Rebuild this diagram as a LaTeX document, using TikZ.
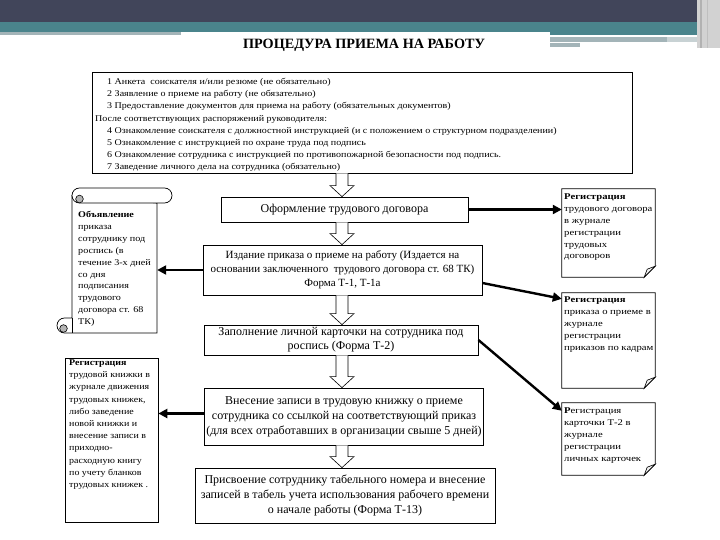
\documentclass[tikz,border=0pt]{standalone}
\usepackage{fontspec}
\setmainfont{Liberation Serif}
\newfontfamily\topfont[FakeStretch=1.14]{Liberation Serif}
\newfontfamily\sidefont[FakeStretch=1.21]{Liberation Serif}
\newfontfamily\scrollfont[FakeStretch=1.15]{Liberation Serif}
\newfontfamily\lboxfont[FakeStretch=1.13]{Liberation Serif}
\usetikzlibrary{arrows.meta,calc}
\definecolor{bannerdark}{HTML}{41455A}
\definecolor{bannerteal}{HTML}{4A848C}
\definecolor{bannergray}{HTML}{A3B4B8}
\definecolor{curlgray}{HTML}{B4B4B4}
\begin{document}
\begin{tikzpicture}[x=1pt,y=-1pt,
  mainbox/.style={draw, line width=0.8pt, fill=white, align=center, inner sep=2pt,
    font=\fontsize{12}{15}\selectfont},
  plainarea/.style={draw=none, inner sep=0pt},
  sidetext/.style={anchor=north west, inner sep=0pt, align=left,
    font=\sidefont\fontsize{8.8}{11.9}\selectfont},
  hollowarrow/.style={draw, line width=0.6pt, fill=white},
  thickarrow/.style={line width=2.4pt, -{Triangle[length=9pt,width=9pt]}},
  blockarrow/.style={to path={let \p1=(\tikztostart),\p2=(\tikztotarget) in
    (\x1-6pt,\y1) -- (\x1-6pt,\y2+11pt) -- (\x1-12pt,\y2+11pt) -- (\x1,\y2)
    -- (\x1+12pt,\y2+11pt) -- (\x1+6pt,\y2+11pt) -- (\x1+6pt,\y1)}}
]
\useasboundingbox (0,0) rectangle (720,540);
\fill[white] (0,0) rectangle (720,540);
% banner
\fill[bannerdark] (0,0) rectangle (720,22);
\fill[bannerteal] (0,22) rectangle (720,32);
\fill[bannergray] (0,32) rectangle (181,35);
\fill[bannerteal] (550,32) rectangle (697,35);
\fill[bannergray] (550,37) rectangle (667,42);
\fill[bannergray!60] (667,37) rectangle (697,42);
\fill[bannergray] (550,43) rectangle (580,47);
\fill[gray!35] (697,0) rectangle (720,48);
\fill[gray!60] (700,0) rectangle (702,48);
\fill[gray!50] (707,0) rectangle (708,48);

% title
\node[inner sep=0pt, font=\bfseries\fontsize{14.2}{16}\selectfont] (title) at (364,45) {ПРОЦЕДУРА ПРИЕМА НА РАБОТУ};

% top box
\node[draw, line width=0.9pt, minimum width=540, minimum height=101, inner sep=0pt] (top) at (362,122.5) {};
\node[anchor=north west, inner sep=0pt, align=left, font=\topfont\fontsize{8.8}{12.2}\selectfont] (toptext) at (95,78) {%
\hspace*{12pt}1 Анкета\ \ соискателя и/или резюме (не обязательно)\\
\hspace*{12pt}2 Заявление о приеме на работу (не обязательно)\\
\hspace*{12pt}3 Предоставление документов для приема на работу (обязательных документов)\\
После соответствующих распоряжений руководителя:\\
\hspace*{12pt}4 Ознакомление соискателя с должностной инструкцией (и с положением о структурном подразделении)\\
\hspace*{12pt}5 Ознакомление с инструкцией по охране труда под подпись\\
\hspace*{12pt}6 Ознакомление сотрудника с инструкцией по противопожарной безопасности под подпись.\\
\hspace*{12pt}7 Заведение личного дела на сотрудника (обязательно)};

% main column
\node[mainbox, minimum width=247, minimum height=25] (b1) at (344.5,209.5) {Оформление трудового договора};
\node[mainbox, minimum width=279, minimum height=50, font=\fontsize{11}{13.8}\selectfont] (b2) at (342.5,270) {Издание приказа о приеме на работу (Издается на\\основании заключенного\ \ трудового договора ст. 68 ТК)\\Форма Т-1, Т-1а};
\node[mainbox, minimum width=274, minimum height=30, font=\fontsize{12}{14}\selectfont] (b3) at (341,340) {Заполнение личной карточки на сотрудника под\\роспись (Форма Т-2)};
\node[mainbox, minimum width=278, minimum height=57] (b4) at (344,416.5) {Внесение записи в трудовую книжку о приеме\\сотрудника со ссылкой на соответствующий приказ\\(для всех отработавших в организации свыше 5 дней)};
\node[mainbox, minimum width=300, minimum height=55] (b5) at (345,495.5) {Присвоение сотруднику табельного номера и внесение\\записей в табель учета использования рабочего времени\\о начале работы (Форма Т-13)};

% block arrows
\coordinate (ax) at (342,0);
\draw[hollowarrow] (top.south -| ax) to[blockarrow] (b1.north -| ax);
\draw[hollowarrow] (b1.south -| ax) to[blockarrow] (b2.north -| ax);
\draw[hollowarrow] (b2.south -| ax) to[blockarrow] (b3.north -| ax);
\draw[hollowarrow] (b3.south -| ax) to[blockarrow] (b4.north -| ax);
\draw[hollowarrow] (b4.south -| ax) to[blockarrow] (b5.north -| ax);

% scroll (left)
\node[plainarea, minimum width=85, minimum height=129] (scroll) at (114.5,260.5) {};
\draw[fill=white, line width=0.7pt] (72,195.5) -- (72,318) -- (64.5,318) arc (-90:-270:7.5) -- (157,333) -- (157,203) -- cycle;
\draw[fill=white, line width=0.7pt, rounded corners=7.5pt] (72,188) rectangle (172,203);
\draw[fill=curlgray, line width=0.6pt] (79.5,199) circle (3.8);
\draw[fill=curlgray, line width=0.6pt] (63.5,328.5) circle (3.8);
\draw[line width=0.7pt] (72,318) -- (72,333);
\node[sidetext, font=\scrollfont\fontsize{8.8}{11.9}\selectfont] (scrolltext) at (78,211) {\textbf{Объявление}\\приказа\\сотруднику под\\роспись (в\\течение 3-х дней\\со дня\\подписания\\трудового\\договора ст. 68\\ТК)};

% left box
\node[draw, line width=0.7pt, minimum width=93, minimum height=164, inner sep=0pt] (lbox) at (111.5,440) {};
\node[sidetext, font=\lboxfont\fontsize{8.8}{12.2}\selectfont] (lboxtext) at (69,359.5) {\textbf{Регистрация}\\трудовой книжки в\\журнале движения\\трудовых книжек,\\либо заведение\\новой книжки и\\внесение записи в\\приходно-\\расходную книгу\\по учету бланков\\трудовых книжек .};

% notes (folded corner)
\node[plainarea, minimum width=93, minimum height=88] (n1) at (608.5,233) {};
\node[plainarea, minimum width=93, minimum height=95] (n2) at (608.5,340.5) {};
\node[plainarea, minimum width=93, minimum height=72] (n3) at (608.5,439) {};
\foreach \n in {n1,n2,n3}{
  \draw[fill=white, line width=0.7pt] (\n.north west) -- (\n.north east) -- ([yshift=11pt]\n.south east)
     -- ([xshift=-11pt]\n.south east) -- (\n.south west) -- cycle;
  \draw[fill=gray!12, line width=0.6pt] ([xshift=-11pt]\n.south east) -- ([xshift=-8pt,yshift=8pt]\n.south east)
     -- ([yshift=11pt]\n.south east) -- cycle;
}
\node[sidetext] (n1text) at (564,193.5) {\textbf{Регистрация}\\трудового договора\\в журнале\\регистрации\\трудовых\\договоров};
\node[sidetext] (n2text) at (564,296.5) {\textbf{Регистрация}\\приказа о приеме в\\журнале\\регистрации\\приказов по кадрам};
\node[sidetext] (n3text) at (564,408) {\textbf{Р}егистрация\\карточки Т-2 в\\журнале\\регистрации\\личных карточек};

% thick arrows
\draw[thickarrow] (b1.east) -- (b1.east -| n1.west);
\draw[thickarrow] ([yshift=-13pt]b2.east) -- ([yshift=-6pt]n2.north west);
\draw[thickarrow] (b3.east) -- ([yshift=-8pt]n3.north west);
\draw[thickarrow] (b2.west) -- (b2.west -| scroll.east);
\draw[thickarrow] ([yshift=3pt]b4.west) -- ([yshift=3pt]b4.west -| lbox.east);
\end{tikzpicture}
\end{document}
